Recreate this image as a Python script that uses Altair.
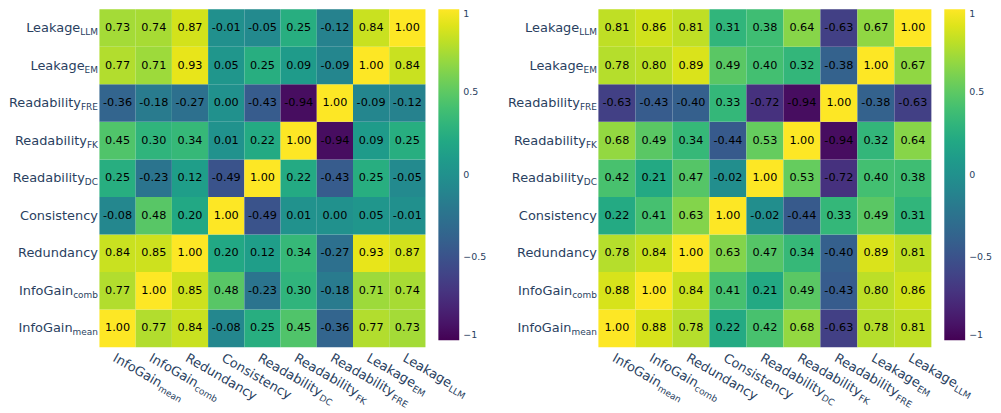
import math
import altair as alt
import pandas as pd

# Variable order: columns left->right, rows bottom->top
names = ["InfoGain", "InfoGain", "Redundancy", "Consistency", "Readability",
         "Readability", "Readability", "Leakage", "Leakage"]
subs = ["mean", "comb", "", "", "DC", "FK", "FRE", "EM", "LLM"]

# rows listed from bottom (InfoGain_mean) to top (Leakage_LLM)
left_vals = [
    [1.00, 0.77, 0.84, -0.08, 0.25, 0.45, -0.36, 0.77, 0.73],
    [0.77, 1.00, 0.85, 0.48, -0.23, 0.30, -0.18, 0.71, 0.74],
    [0.84, 0.85, 1.00, 0.20, 0.12, 0.34, -0.27, 0.93, 0.87],
    [-0.08, 0.48, 0.20, 1.00, -0.49, 0.01, 0.00, 0.05, -0.01],
    [0.25, -0.23, 0.12, -0.49, 1.00, 0.22, -0.43, 0.25, -0.05],
    [0.45, 0.30, 0.34, 0.01, 0.22, 1.00, -0.94, 0.09, 0.25],
    [-0.36, -0.18, -0.27, 0.00, -0.43, -0.94, 1.00, -0.09, -0.12],
    [0.77, 0.71, 0.93, 0.05, 0.25, 0.09, -0.09, 1.00, 0.84],
    [0.73, 0.74, 0.87, -0.01, -0.05, 0.25, -0.12, 0.84, 1.00],
]
right_vals = [
    [1.00, 0.88, 0.78, 0.22, 0.42, 0.68, -0.63, 0.78, 0.81],
    [0.88, 1.00, 0.84, 0.41, 0.21, 0.49, -0.43, 0.80, 0.86],
    [0.78, 0.84, 1.00, 0.63, 0.47, 0.34, -0.40, 0.89, 0.81],
    [0.22, 0.41, 0.63, 1.00, -0.02, -0.44, 0.33, 0.49, 0.31],
    [0.42, 0.21, 0.47, -0.02, 1.00, 0.53, -0.72, 0.40, 0.38],
    [0.68, 0.49, 0.34, -0.44, 0.53, 1.00, -0.94, 0.32, 0.64],
    [-0.63, -0.43, -0.40, 0.33, -0.72, -0.94, 1.00, -0.38, -0.63],
    [0.78, 0.80, 0.89, 0.49, 0.40, 0.32, -0.38, 1.00, 0.67],
    [0.81, 0.86, 0.81, 0.31, 0.38, 0.64, -0.63, 0.67, 1.00],
]

FONT = "DejaVu Sans"
LABEL_COLOR = "#2a3f5f"
MAIN_SIZE = 13
SUB_SIZE = 9
CELL_SIZE = 11.3
H = 340
N = len(names)

# DejaVu Sans advance widths (em)
CW = {"a": .613, "b": .635, "c": .550, "d": .635, "e": .615, "f": .352, "g": .635,
      "i": .278, "k": .579, "l": .278, "m": .974, "n": .634, "o": .612, "r": .411,
      "s": .521, "t": .392, "u": .634, "y": .592, "C": .698, "D": .770, "E": .632,
      "F": .575, "G": .776, "I": .295, "K": .656, "L": .557, "M": .863, "R": .695}


def tw(s, size):
    return sum(CW.get(c, 0.6) for c in s) * size


def panel(vals, W):
    PXX, PXY = W / N, H / N
    cells = []
    for j, row in enumerate(vals):
        for i, v in enumerate(row):
            cells.append({"x0": i, "x1": i + 1, "y0": j, "y1": j + 1,
                          "xc": i + 0.5, "yc": j + 0.5, "v": v, "lab": f"{v:.2f}"})
    cells = pd.DataFrame(cells)

    pad = 1.5
    drop = 4
    ang = math.radians(30)
    labs = []
    for k, (nm, sb) in enumerate(zip(names, subs)):
        mw = tw(nm, MAIN_SIZE)
        sw = tw(sb, SUB_SIZE)
        labs.append({
            "main": nm, "sub": sb,
            "ym_x": -(pad + sw) / PXX, "ys_x": -pad / PXX, "y_y": k + 0.5,
            "xm_x": k + 0.5, "xm_y": -drop / PXY,
            "xs_x": k + 0.5 + mw * math.cos(ang) / PXX,
            "xs_y": -drop / PXY - mw * math.sin(ang) / PXY,
        })
    labs = pd.DataFrame(labs)

    xs = alt.Scale(domain=[0, N], nice=False, zero=False)
    ys = alt.Scale(domain=[0, N], nice=False, zero=False)

    rect = alt.Chart(cells).mark_rect(strokeWidth=0).encode(
        x=alt.X("x0:Q", scale=xs, axis=None),
        x2="x1:Q",
        y=alt.Y("y0:Q", scale=ys, axis=None),
        y2="y1:Q",
        color=alt.Color(
            "v:Q",
            scale=alt.Scale(scheme="viridis", domain=[-1, 1]),
            legend=alt.Legend(
                title=None, orient="right", direction="vertical",
                values=[-1, -0.5, 0, 0.5, 1],
                gradientLength=333, gradientThickness=21, gradientStrokeWidth=0,
                offset=13, padding=0, labelFont=FONT, labelFontSize=9.5,
                labelColor=LABEL_COLOR, labelBaseline="middle", labelOverlap=False,
                labelOffset=4,
                labelExpr="datum.value < 0 ? '\u2212' + (-datum.value) : '' + datum.value",
            ),
        ),
    )
    text = alt.Chart(cells).mark_text(font=FONT, fontSize=CELL_SIZE, color="black").encode(
        x=alt.X("xc:Q", scale=xs, axis=None),
        y=alt.Y("yc:Q", scale=ys, axis=None),
        text="lab:N",
    )
    lb = alt.Chart(labs)
    y_main = lb.mark_text(font=FONT, fontSize=MAIN_SIZE, color=LABEL_COLOR,
                          align="right", baseline="middle").encode(
        x=alt.X("ym_x:Q", scale=xs, axis=None), y=alt.Y("y_y:Q", scale=ys, axis=None),
        text="main:N")
    y_sub = lb.mark_text(font=FONT, fontSize=SUB_SIZE, color=LABEL_COLOR,
                         align="right", baseline="middle", dy=4).encode(
        x=alt.X("ys_x:Q", scale=xs, axis=None), y=alt.Y("y_y:Q", scale=ys, axis=None),
        text="sub:N")
    x_main = lb.mark_text(font=FONT, fontSize=MAIN_SIZE, color=LABEL_COLOR,
                          align="left", baseline="alphabetic", angle=30, dy=11).encode(
        x=alt.X("xm_x:Q", scale=xs, axis=None), y=alt.Y("xm_y:Q", scale=ys, axis=None),
        text="main:N")
    x_sub = lb.mark_text(font=FONT, fontSize=SUB_SIZE, color=LABEL_COLOR,
                         align="left", baseline="alphabetic", angle=30, dy=14).encode(
        x=alt.X("xs_x:Q", scale=xs, axis=None), y=alt.Y("xs_y:Q", scale=ys, axis=None),
        text="sub:N")
    return alt.layer(rect, text, y_main, y_sub, x_main, x_sub).properties(width=W, height=H)


chart = alt.hconcat(panel(left_vals, 328), panel(right_vals, 335), spacing=20).resolve_scale(
    color="independent"
).configure_view(stroke=None).properties(
    padding={"left": 0, "top": 0, "right": 0, "bottom": 0}
)

chart.save("out.html", embed_options={"renderer": "svg", "actions": False})
